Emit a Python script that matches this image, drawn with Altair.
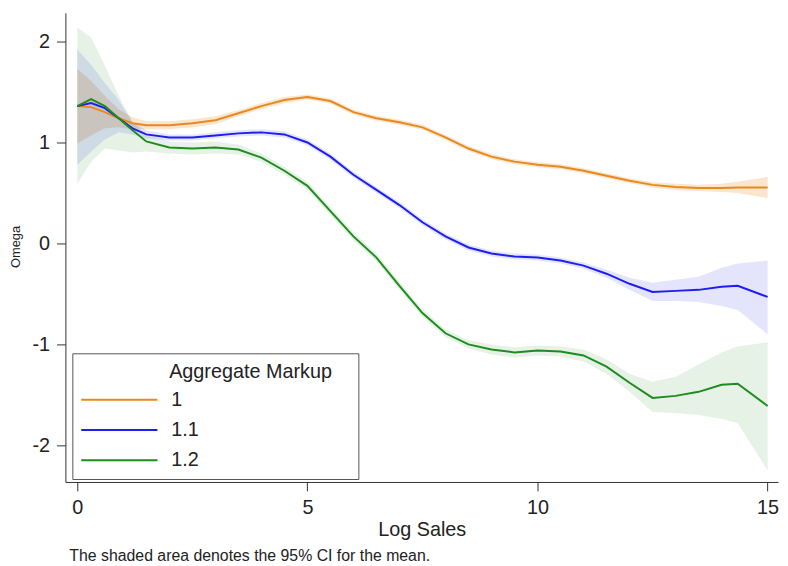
import altair as alt
import pandas as pd

# ---- data ----
X = [0, 0.3, 0.6, 0.9, 1.2, 1.5, 2, 2.5, 3, 3.5, 4, 4.5, 5, 5.5, 6, 6.5, 7, 7.5,
     8, 8.5, 9, 9.5, 10, 10.5, 11, 11.5, 12, 12.5, 13, 13.5, 14, 14.35, 15]

categories = ["1", "1.1", "1.2"]

orange_mean = [1.36, 1.35, 1.30, 1.24, 1.19, 1.17, 1.17, 1.19, 1.22, 1.29, 1.36, 1.42, 1.45, 1.41, 1.30, 1.24, 1.20, 1.15,
               1.05, 0.94, 0.86, 0.81, 0.78, 0.76, 0.72, 0.67, 0.62, 0.58, 0.56, 0.55, 0.55, 0.555, 0.555]
orange_lo = [0.99, 1.07, 1.14, 1.15, 1.13, 1.13, 1.13, 1.15, 1.18, 1.26, 1.33, 1.39, 1.425, 1.385, 1.275, 1.215, 1.175, 1.125,
             1.025, 0.915, 0.835, 0.785, 0.755, 0.735, 0.695, 0.645, 0.595, 0.555, 0.53, 0.52, 0.51, 0.50, 0.45]
orange_hi = [1.73, 1.61, 1.46, 1.33, 1.25, 1.21, 1.21, 1.23, 1.26, 1.32, 1.39, 1.45, 1.475, 1.435, 1.325, 1.265, 1.225, 1.175,
             1.075, 0.965, 0.885, 0.835, 0.805, 0.785, 0.745, 0.695, 0.645, 0.605, 0.59, 0.58, 0.59, 0.61, 0.66]

blue_mean = [1.36, 1.39, 1.34, 1.24, 1.14, 1.08, 1.05, 1.05, 1.07, 1.09, 1.10, 1.08, 1.00, 0.86, 0.68, 0.53, 0.38, 0.21,
             0.07, -0.04, -0.10, -0.13, -0.14, -0.17, -0.22, -0.30, -0.40, -0.48, -0.47, -0.46, -0.43, -0.42, -0.53]
blue_lo = [0.78, 0.91, 1.03, 1.10, 1.08, 1.04, 1.02, 1.02, 1.04, 1.06, 1.07, 1.05, 0.97, 0.83, 0.65, 0.50, 0.35, 0.18,
           0.04, -0.07, -0.13, -0.16, -0.17, -0.20, -0.25, -0.34, -0.46, -0.57, -0.57, -0.58, -0.62, -0.66, -0.90]
blue_hi = [1.92, 1.77, 1.59, 1.42, 1.20, 1.12, 1.08, 1.08, 1.10, 1.12, 1.13, 1.11, 1.03, 0.89, 0.71, 0.56, 0.41, 0.24,
           0.10, -0.01, -0.07, -0.10, -0.11, -0.14, -0.19, -0.26, -0.34, -0.39, -0.36, -0.33, -0.24, -0.20, -0.17]

green_mean = [1.36, 1.43, 1.36, 1.24, 1.12, 1.01, 0.95, 0.94, 0.95, 0.93, 0.85, 0.72, 0.57, 0.32, 0.07, -0.14, -0.42, -0.69,
              -0.89, -1.00, -1.05, -1.08, -1.06, -1.07, -1.11, -1.22, -1.38, -1.53, -1.51, -1.47, -1.40, -1.39, -1.61]
green_lo = [0.59, 0.81, 0.94, 0.92, 0.90, 0.91, 0.89, 0.88, 0.89, 0.88, 0.81, 0.68, 0.53, 0.28, 0.03, -0.18, -0.46, -0.73,
            -0.93, -1.04, -1.10, -1.13, -1.11, -1.12, -1.17, -1.29, -1.47, -1.67, -1.68, -1.70, -1.74, -1.78, -2.25]
green_hi = [2.14, 2.04, 1.76, 1.46, 1.20, 1.08, 1.01, 1.00, 1.01, 0.98, 0.89, 0.76, 0.61, 0.36, 0.11, -0.10, -0.38, -0.65,
            -0.85, -0.96, -1.00, -1.03, -1.01, -1.02, -1.05, -1.15, -1.29, -1.37, -1.32, -1.20, -1.08, -1.02, -0.98]

x_ticks = [0, 5, 10, 15]
y_ticks = [-2, -1, 0, 1, 2]
legend_title = "Aggregate Markup"
caption = ["The shaded area denotes the 95% CI for the mean."]

# ---- build table ----
rows = []
for name, m, lo, hi in [("1", orange_mean, orange_lo, orange_hi),
                        ("1.1", blue_mean, blue_lo, blue_hi),
                        ("1.2", green_mean, green_lo, green_hi)]:
    for xv, a, b, c in zip(X, m, lo, hi):
        rows.append({"x": xv, "series": name, "mean": a, "lo": b, "hi": c})
df = pd.DataFrame(rows)

FONT = "Liberation Sans"
line_colors = ["#E8891E", "#1E1EF0", "#1E8C1E"]
band_colors = ["rgba(232,137,30,0.22)", "rgba(30,30,240,0.12)", "rgba(30,140,30,0.11)"]

xscale = alt.Scale(domain=[-0.258, 15.226], nice=False, zero=False)
yscale = alt.Scale(domain=[-2.363, 2.284], nice=False, zero=False)

x_axis = alt.Axis(values=x_ticks, title="Log Sales", grid=False, tickSize=9, labelPadding=7,
                  labelFontSize=20, titleFontSize=20, titleFontWeight="normal",
                  titleBaseline="alphabetic", titleY=54, labelFont=FONT, titleFont=FONT,
                  domainColor="#333333", tickColor="#333333", labelColor="#222222", titleColor="#222222",
                  labelFlush=False, labelExpr="datum.value + ''")
y_axis = alt.Axis(values=y_ticks, title="Omega", grid=False, tickSize=9, labelPadding=7,
                  labelFontSize=20, titleFontSize=13, titleFontWeight="normal",
                  titleX=-50, titleY=236, titleBaseline="middle", titleAngle=270,
                  labelFont=FONT, titleFont=FONT,
                  domainColor="#333333", tickColor="#333333", labelColor="#222222", titleColor="#222222",
                  labelFlush=False, labelExpr="datum.value + ''")

base = alt.Chart(df)

# band fill scale keeps a data-derived domain so its (hidden) legend is not merged with the line legend
bands = base.mark_area(interpolate="linear").encode(
    x=alt.X("x:Q", scale=xscale, axis=x_axis),
    y=alt.Y("lo:Q", scale=yscale, axis=y_axis),
    y2="hi:Q",
    fill=alt.Fill("series:N", scale=alt.Scale(range=band_colors), legend=None),
)

# zero-width space keeps the non-breaking indent from being trimmed
indented_title = "\u200b" + "\u00a0" * 16 + legend_title + "\u00a0" * 3 + "\u200b"

legend = alt.Legend(
    title=indented_title, orient="none", legendX=7, legendY=344,
    direction="vertical", symbolType="M-7.7,0H7.7", symbolSize=100, symbolStrokeWidth=2,
    symbolOffset=28.5, labelOffset=42.5, rowPadding=10.5, labelFontSize=20, titleFontSize=20,
    titleFontWeight="normal", titlePadding=8, padding=9, strokeColor="#555555",
    fillColor="white", titleLimit=500, labelFont=FONT, titleFont=FONT,
    labelColor="#222222", titleColor="#222222",
)

lines = base.mark_line(strokeWidth=2, interpolate="linear").encode(
    x=alt.X("x:Q", scale=xscale),
    y=alt.Y("mean:Q", scale=yscale),
    color=alt.Color("series:N", scale=alt.Scale(domain=categories, range=line_colors), legend=legend),
)

cap = alt.Chart(pd.DataFrame({"t": caption})).mark_text(
    align="left", baseline="alphabetic", fontSize=16, font=FONT, color="#222222"
).encode(x=alt.value(4), y=alt.value(554), text="t:N")

chart = alt.layer(bands, lines, cap).properties(
    width=720, height=474,
    autosize=alt.AutoSizeParams(type="none"),
    padding={"left": 58, "top": 2, "right": 2, "bottom": 82},
).configure_view(stroke=None)

chart.save("out.html", embed_options={"renderer": "svg", "actions": False})
